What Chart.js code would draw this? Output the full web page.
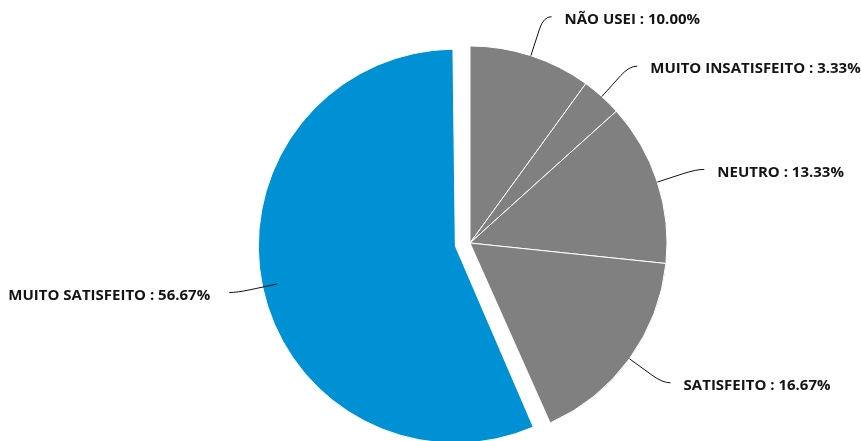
<!DOCTYPE html>
<html>
<head>
<meta charset="utf-8">
<script src="https://cdn.jsdelivr.net/npm/chart.js@4/dist/chart.umd.min.js"></script>
<style>
  html, body { margin: 0; padding: 0; background: #fff; }
  #wrap { width: 861px; height: 441px; }
</style>
</head>
<body>
<div id="wrap"><canvas id="pieChart" width="861" height="441"></canvas></div>
<script>
// data
const categories = ['NÃO USEI', 'MUITO INSATISFEITO', 'NEUTRO', 'SATISFEITO', 'MUITO SATISFEITO'];
const shares = [10.00, 3.33, 13.33, 16.67, 56.67];
const sliceColors = ['#808080', '#808080', '#808080', '#808080', '#0090d4'];
const pulledOut = [false, false, false, false, true];

const RADIUS = 197;
const PULL = 15; // px the exploded slice is moved out

// chart.js grows an exploded slice's radius by offset/4, undo that
const keepRadius = {
  id: 'keepRadius',
  afterDatasetUpdate(chart, args) {
    args.meta.data.forEach((arc, i) => {
      if (pulledOut[i]) arc.outerRadius = RADIUS - PULL;
    });
  }
};

// labels outside the pie with leader lines
const outsideLabels = {
  id: 'outsideLabels',
  afterDatasetsDraw(chart) {
    const meta = chart.getDatasetMeta(0);
    const ctx = chart.ctx;
    ctx.save();
    ctx.font = 'bold 15px "Open Sans"';
    ctx.fillStyle = '#141414';
    ctx.strokeStyle = '#111';
    ctx.lineWidth = 1;
    ctx.textBaseline = 'middle';
    meta.data.forEach((arc, i) => {
      const mid = (arc.startAngle + arc.endAngle) / 2;
      const dx = Math.cos(mid), dy = Math.sin(mid);
      const side = dx >= 0 ? 1 : -1;
      const sx = arc.x + dx * RADIUS, sy = arc.y + dy * RADIUS;
      const kx = sx + dx * 41, ky = sy + dy * 41;
      const ex = kx + side * 8, ey = ky;
      ctx.beginPath();
      ctx.moveTo(sx, sy);
      ctx.lineTo(sx + dx * 28, sy + dy * 28);
      ctx.quadraticCurveTo(kx, ky, ex, ey);
      ctx.stroke();
      ctx.textAlign = side > 0 ? 'left' : 'right';
      const txt = categories[i] + ' : ' + shares[i].toFixed(2) + '%';
      ctx.fillText(txt, ex + side * (side > 0 ? 13 : 19), ey + 3);
    });
    ctx.restore();
  }
};

const ctx = document.getElementById('pieChart').getContext('2d');
new Chart(ctx, {
  type: 'pie',
  data: {
    labels: categories,
    datasets: [{
      data: shares,
      backgroundColor: sliceColors,
      borderColor: '#ffffff',
      borderWidth: 1,
      offset: pulledOut.map(p => p ? PULL * 4 : 0),
      clip: false
    }]
  },
  options: {
    responsive: false,
    animation: false,
    devicePixelRatio: 1,
    radius: RADIUS,
    layout: { padding: { left: 79, right: 0, top: 45, bottom: 0 } },
    plugins: {
      legend: { display: false },
      tooltip: { enabled: false }
    }
  },
  plugins: [keepRadius, outsideLabels]
});
</script>
</body>
</html>
